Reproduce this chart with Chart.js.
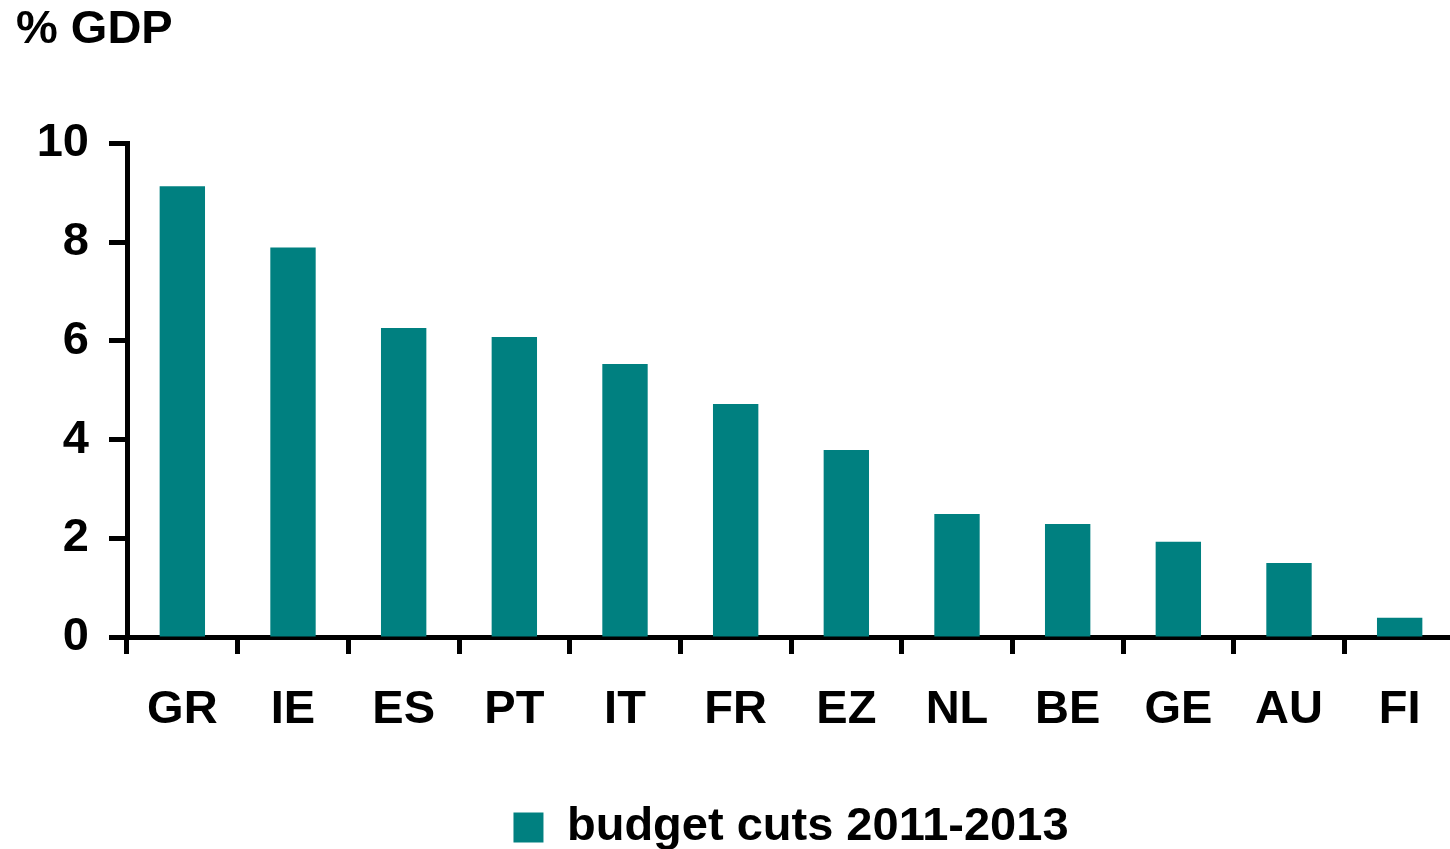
<!DOCTYPE html>
<html>
<head>
<meta charset="utf-8">
<script src="https://cdn.jsdelivr.net/npm/chart.js@4/dist/chart.umd.min.js"></script>
<style>
  html, body { margin: 0; padding: 0; background: #fff; overflow: hidden; }
  #wrap { width: 1456px; height: 849px; }
</style>
</head>
<body>
<div id="wrap"><canvas id="cutsChart"></canvas></div>
<script>
// budget cuts 2011-2013, % of GDP
var countries = ["GR", "IE", "ES", "PT", "IT", "FR", "EZ", "NL", "BE", "GE", "AU", "FI"];
var cuts = [9.13, 7.89, 6.26, 6.08, 5.53, 4.72, 3.79, 2.49, 2.29, 1.93, 1.50, 0.39];
var yTicks = [0, 2, 4, 6, 8, 10];

var boldFont = { family: "'Liberation Sans', Arial, sans-serif", size: 47, weight: 'bold' };

var ctx = document.getElementById("cutsChart").getContext('2d');
var cutsChart = new Chart(ctx, {
    type: 'bar',
    data: {
        labels: countries,
        datasets: [
            {
                label: "budget cuts 2011-2013",
                backgroundColor: "#008080",
                borderWidth: 0,
                barPercentage: 0.41,
                categoryPercentage: 1.0,
                data: cuts
            }
        ]
    },
    options: {
        responsive: true,
        maintainAspectRatio: false,
        animation: false,
        // legend sits a little lower than the default box allows
        layout: { padding: { left: 16, right: 1, top: 0, bottom: -12 } },
        plugins: {
            tooltip: { enabled: false },
            title: {
                display: true,
                text: "% GDP",
                align: 'start',
                color: '#000',
                font: boldFont,
                padding: { top: 2, bottom: 85 }
            },
            legend: {
                position: 'bottom',
                fullSize: false,
                labels: {
                    color: '#000',
                    font: boldFont,
                    boxWidth: 30,
                    boxHeight: 30,
                    padding: 10
                }
            }
        },
        scales: {
            x: {
                grid: {
                    offset: true,
                    drawOnChartArea: false,
                    drawTicks: true,
                    tickLength: 17,
                    tickWidth: 5,
                    tickColor: '#000'
                },
                border: { display: true, color: '#000', width: 5 },
                ticks: { color: '#000', font: boldFont, padding: 28, maxRotation: 0, autoSkip: false },
                afterFit: function (scale) { scale.height = 157; }
            },
            y: {
                min: 0,
                max: 10,
                afterBuildTicks: function (scale) {
                    scale.ticks = yTicks.map(function (v) { return { value: v }; });
                },
                grid: {
                    drawOnChartArea: false,
                    drawTicks: true,
                    tickLength: 18,
                    tickWidth: 5,
                    tickColor: '#000'
                },
                border: { display: true, color: '#000', width: 5 },
                ticks: { color: '#000', font: boldFont, padding: 20 },
                afterFit: function (scale) { scale.width = 111; }
            }
        }
    }
});
</script>
</body>
</html>
